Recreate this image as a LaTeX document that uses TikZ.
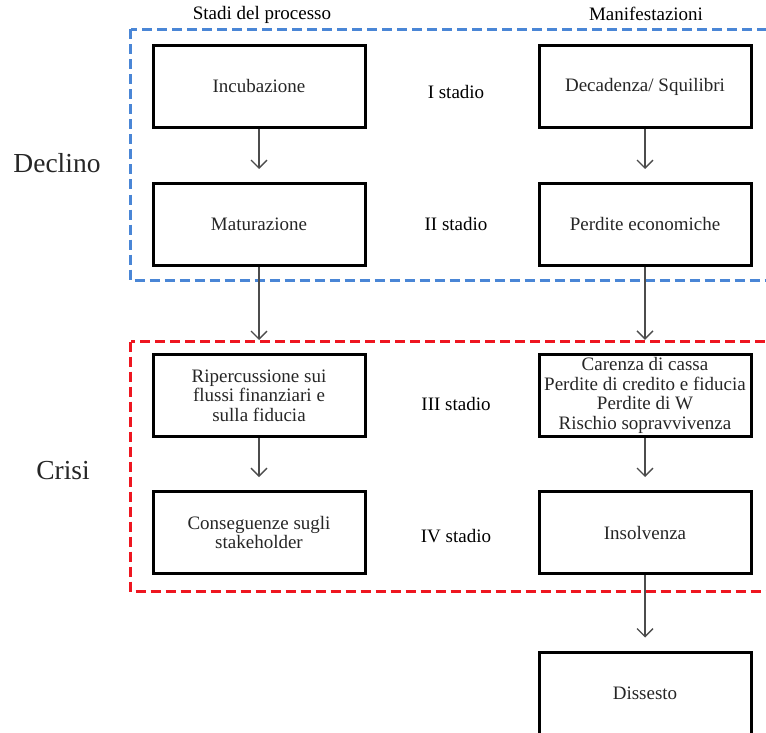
\documentclass[tikz,border=0pt]{standalone}
\usepackage{fontspec}
\setmainfont{Liberation Serif}
\usetikzlibrary{arrows.meta}
\definecolor{declinoblu}{RGB}{74,134,214}
\definecolor{crisirosso}{RGB}{238,22,32}
\tikzset{
  stadiobox/.style={draw, line width=3pt, minimum width=212pt, minimum height=82pt, align=center, text=black!85},
  freccia/.style={->, draw=black!70, line width=1.3pt, shorten >=13pt},
  cornice/.style={line width=3pt, dash pattern=on 10pt off 5pt},
  fase/.style={font=\fontsize{27.5}{30}\selectfont, text=black!85}
}
\begin{document}
\begin{tikzpicture}[x=1pt, y=-1pt, >={Straight Barb[length=8pt,width=16pt]}, font=\fontsize{19}{19.5}\selectfont]
\useasboundingbox (0,0) rectangle (766,733);
\clip (0,0) rectangle (766,733);
% cornici
\draw[cornice, declinoblu] (130.5,29.5) rectangle (790,280.5);
\draw[cornice, crisirosso] (130.5,341.5) rectangle (790,591.5);
% intestazioni
\node (hstadi) at (262,15) {Stadi del processo};
\node (hmanif) at (646,14) {Manifestazioni};
\node[fase] (declino) at (57,163) {Declino};
\node[fase] (crisi) at (63,471) {Crisi};
% stadi del processo
\node[stadiobox] (inc) at (259,86.5) {Incubazione};
\node[stadiobox] (mat) at (259,224.5) {Maturazione};
\node[stadiobox] (rip) at (259,395.5) {Ripercussione sui\\flussi finanziari e\\sulla fiducia};
\node[stadiobox] (cons) at (259,532.5) {Conseguenze sugli\\stakeholder};
% manifestazioni
\node[stadiobox] (dec) at (645,86.5) {Decadenza/ Squilibri};
\node[stadiobox] (perd) at (645,224.5) {Perdite economiche};
\node[stadiobox] (car) at (645,395.5) {Carenza di cassa\\Perdite di credito e fiducia\\Perdite di W\\Rischio sopravvivenza};
\node[stadiobox] (ins) at (645,532.5) {Insolvenza};
\node[stadiobox] (diss) at (645,693) {Dissesto};
% stadi
\foreach \y/\s [count=\i] in {92/I, 224/II, 404/III, 536/IV}
{
    \node (stadio\i) at (456,\y) {\s\ stadio};
}
\draw[freccia] (inc)--(mat);
\draw[freccia] (mat)--(rip);
\draw[freccia] (rip)--(cons);
\draw[freccia] (dec)--(perd);
\draw[freccia] (perd)--(car);
\draw[freccia] (car)--(ins);
\draw[freccia] (ins)--(diss);
\end{tikzpicture}
\end{document}
